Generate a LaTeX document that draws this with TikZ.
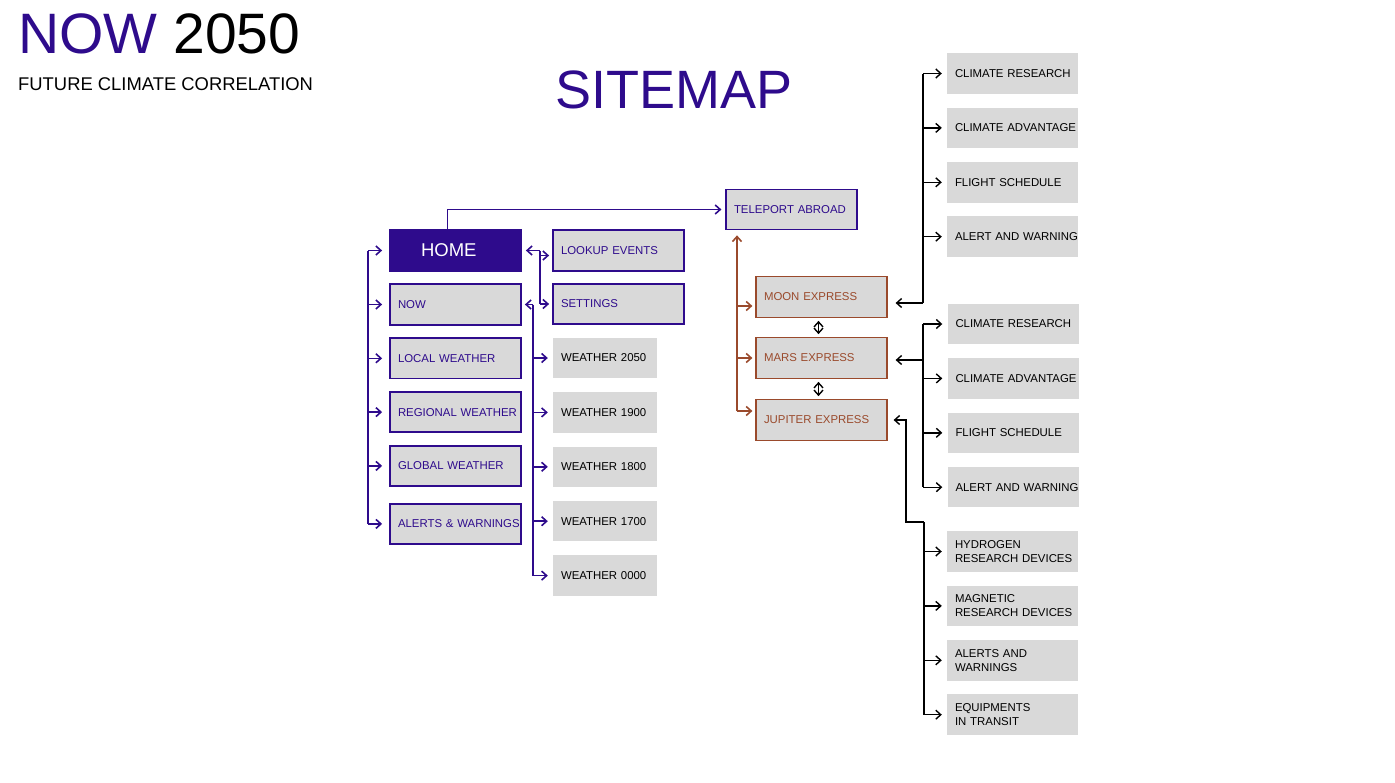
\documentclass[tikz,border=0pt]{standalone}
\usepackage{fontspec}
\setmainfont{Liberation Sans}
\usepackage{xcolor}
\usetikzlibrary{arrows.meta,positioning,calc}

\definecolor{purp}{HTML}{2E0B8C}
\definecolor{rust}{HTML}{9A4A2C}
\definecolor{boxgray}{HTML}{D9D9D9}
\newcommand{\lblfont}{\fontsize{11.4}{14}\selectfont}
\newcommand{\padleft}[1]{\leftskip=#1\rightskip=-30pt plus 1fil\hyphenpenalty=10000}

\begin{document}
\begin{tikzpicture}[x=1pt, y=-1pt, node distance=13.5pt,
  box/.style={draw=purp, line width=1.8pt, fill=boxgray, text=purp, font=\lblfont,
    align=left, text width=131pt, inner xsep=0pt, minimum height=40.5pt,
    execute at begin node={\padleft{8pt}}},
  gbox/.style={fill=boxgray, text=black, font=\lblfont, align=left,
    text width=104pt, inner xsep=0pt, minimum height=40.5pt,
    execute at begin node={\padleft{8pt}}},
  rbox/.style={gbox, text width=131pt},
  xbox/.style={box, draw=rust, text=rust, line width=1.2pt},
  tip/.style={-{Straight Barb[length=5pt,width=9pt]}},
  pline/.style={draw=purp, line width=1.6pt},
  parr/.style={pline, tip, shorten >=5pt},
  barr/.style={draw=rust, line width=1.6pt, tip, shorten >=3pt},
  kline/.style={draw=black, line width=1.4pt},
  karr/.style={kline, tip, shorten >=5pt},
  darr/.style={kline, {Straight Barb[length=5pt,width=9pt]}-{Straight Barb[length=5pt,width=9pt]}, shorten >=3pt, shorten <=3pt}]

\useasboundingbox (0,0) rectangle (1395,782);

% header
\node (brand) [anchor=base west, inner sep=0pt, font=\fontsize{57}{60}\selectfont] at (18,53)
  {\textcolor{purp}{NOW} 2050};
\node (tagline) [anchor=base west, inner sep=0pt, font=\fontsize{18.4}{20}\selectfont] at (18,90)
  {FUTURE CLIMATE CORRELATION};
\node (title) [anchor=base west, inner sep=0pt, text=purp, font=\fontsize{54}{58}\selectfont] at (555,108)
  {SITEMAP};

% main column
\node (home) [box, fill=purp, text=white, font=\fontsize{18.5}{20}\selectfont,
  execute at begin node={\padleft{31pt}}] at (455.5,250.5) {HOME};
\node (now) [box, below=11.7pt of home] {NOW};
\node (local) [box, below=11.5pt of now] {LOCAL WEATHER};
\node (regional) [box, below=11.5pt of local] {REGIONAL WEATHER};
\node (global) [box, below=11.5pt of regional] {GLOBAL WEATHER};
\node (alerts) [box, below=15.7pt of global] {ALERTS \& WARNINGS};

\node (lookup) [box] at (618.5,250.5) {LOOKUP EVENTS};
\node (settings) [box, below=11.2pt of lookup] {SETTINGS};

\node (w2050) [gbox] at (605,358) {WEATHER 2050};
\node (w1900) [gbox, below=of w2050] {WEATHER 1900};
\node (w1800) [gbox, below=of w1900] {WEATHER 1800};
\node (w1700) [gbox, below=of w1800] {WEATHER 1700};
\node (w0000) [gbox, below=of w1700] {WEATHER 0000};

% teleport
\node (teleport) [box, line width=1.2pt] at (791.5,209.5) {TELEPORT ABROAD};
\node (moon) [xbox] at (821.5,297) {MOON EXPRESS};
\node (mars) [xbox, below=19.3pt of moon] {MARS EXPRESS};
\node (jupiter) [xbox, below=20.3pt of mars] {JUPITER EXPRESS};

% moon destinations
\node (cra) [rbox] at (1012.5,73.5) {CLIMATE RESEARCH};
\node (caa) [rbox, below=of cra] {CLIMATE ADVANTAGE};
\node (fsa) [rbox, below=of caa] {FLIGHT SCHEDULE};
\node (awa) [rbox, below=of fsa] {ALERT AND WARNING};

% mars destinations
\node (crb) [rbox] at (1013,324) {CLIMATE RESEARCH};
\node (cab) [rbox, below=of crb] {CLIMATE ADVANTAGE};
\node (fsb) [rbox, below=of cab] {FLIGHT SCHEDULE};
\node (awb) [rbox, below=of fsb] {ALERT AND WARNING};

% jupiter destinations
\node (hrd) [rbox] at (1012.5,551.5) {HYDROGEN\\RESEARCH DEVICES};
\node (mrd) [rbox, below=of hrd] {MAGNETIC\\RESEARCH DEVICES};
\node (aaw) [rbox, below=of mrd] {ALERTS AND\\WARNINGS};
\node (eit) [rbox, below=of aaw] {EQUIPMENTS\\IN TRANSIT};

% left bus
\coordinate (lbus) at (368,0);
\draw[pline] (lbus |- home) -- (lbus |- alerts);
\foreach \n in {home,now,local,regional,global,alerts}
  \draw[parr, shorten >=7pt] (lbus |- \n) -- (\n);

% home <-> lookup / settings
\coordinate (hbus) at (540,0);
\draw[parr, shorten >=4pt] (hbus |- home) -- (home);
\draw[pline] (hbus |- home) -- (hbus |- settings);
\draw[parr, shorten >=3pt] ($(hbus |- lookup)+(0,5)$) -- ($(lookup.west)+(0,5)$);
\draw[parr, shorten >=3pt] (hbus |- settings) -- (settings);

% now <-> weather
\coordinate (wbus) at (533,0);
\draw[parr, shorten >=3pt] (wbus |- now) -- (now);
\draw[pline] (wbus |- now) -- (wbus |- w0000);
\foreach \n in {w2050,w1900,w1800,w1700,w0000}
  \draw[parr] (wbus |- \n) -- (\n);

% home -> teleport
\draw[parr, shorten >=4pt] ([xshift=-8pt]home.north) |- (teleport);

% teleport <-> expresses
\coordinate (bbus) at (737,0);
\draw[barr, shorten >=5pt] ($(bbus |- jupiter)+(0,-9)$) -- (bbus |- teleport.south);
\draw[barr] ($(bbus |- moon)+(0,9)$) -- ($(moon.west)+(0,9)$);
\draw[barr] (bbus |- mars) -- (mars);
\draw[barr] ($(bbus |- jupiter)+(0,-9)$) -- ($(jupiter.west)+(0,-9)$);

\draw[darr] ($(moon.south)+(-3,0)$) -- ($(mars.north)+(-3,0)$);
\draw[darr] ($(mars.south)+(-3,0)$) -- ($(jupiter.north)+(-3,0)$);

% moon bus
\coordinate (mbus) at (923,0);
\draw[kline] ($(mbus |- moon)+(0,6)$) -- (mbus |- cra);
\draw[karr, shorten >=8pt] ($(mbus |- moon)+(0,6)$) -- ($(moon.east)+(0,6)$);
\foreach \n in {cra,caa,fsa,awa}
  \draw[karr] (mbus |- \n) -- (\n);

% mars bus
\draw[kline] (mbus |- crb) -- (mbus |- awb);
\draw[karr, shorten >=8pt] ($(mbus |- mars)+(0,2)$) -- ($(mars.east)+(0,2)$);
\foreach \n in {crb,cab,fsb,awb}
  \draw[karr] (mbus |- \n) -- (\n);

% jupiter bus
\coordinate (jbend) at (906,522);
\coordinate (jbus) at (924,522);
\draw[karr, shorten >=6pt] (jbus) -- (jbend) |- (jupiter);
\draw[kline] (jbus) -- (jbus |- eit);
\foreach \n in {hrd,mrd,aaw,eit}
  \draw[karr] (jbus |- \n) -- (\n);

\end{tikzpicture}
\end{document}
